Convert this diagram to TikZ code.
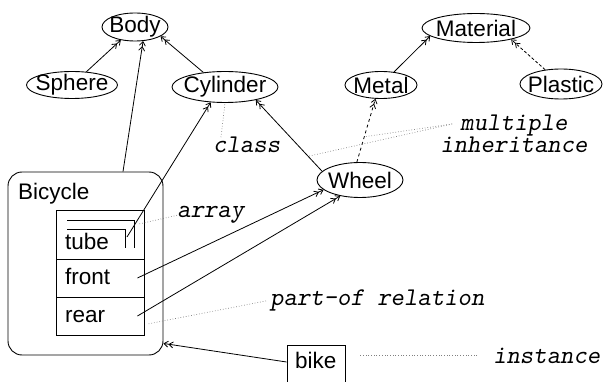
\documentclass[tikz,border=0pt]{standalone}
\usepackage{fontspec}
\setsansfont{Liberation Sans}
\usetikzlibrary{shapes.geometric,arrows.meta,calc}
\begin{document}
\begin{tikzpicture}[x=1pt,y=-1pt,
  every node/.style={inner sep=0pt},
  sf/.style={font=\fontsize{22.5}{26}\selectfont\sffamily},
  tt/.style={font=\fontsize{25.5}{21.5}\selectfont\ttfamily\slshape},
  cls/.style={ellipse,draw,line width=0.9pt,inner sep=0pt},
  slot/.style={draw,line width=0.9pt,minimum width=88pt},
  lnk/.style={line width=0.8pt,-{Straight Barb[length=4pt,width=6pt]Straight Barb[length=4pt,width=6pt]}},
  note/.style={dotted,gray,line width=0.7pt}]
\useasboundingbox (0,0) rectangle (603,382);
\clip (0,0) rectangle (603,382);

% class ellipses
\node[cls,minimum width=66pt,minimum height=28pt,label={[sf]center:Body}] (body) at (135,27) {};
\node[cls,minimum width=91pt,minimum height=27pt,label={[sf]center:Sphere}] (sphere) at (72,85) {};
\node[cls,minimum width=106pt,minimum height=31pt,label={[sf]center:Cylinder}] (cylinder) at (225,87) {};
\node[cls,minimum width=108pt,minimum height=29pt,label={[sf]center:Material}] (material) at (476,28) {};
\node[cls,minimum width=72pt,minimum height=27pt,label={[sf]center:Metal}] (metal) at (381,85) {};
\node[cls,minimum width=82pt,minimum height=30pt,label={[sf]center:Plastic}] (plastic) at (561,84) {};
\node[cls,minimum width=86pt,minimum height=35pt,label={[sf]center:Wheel}] (wheel) at (360,180) {};

% Bicycle class box
\node[draw,line width=0.9pt,rounded corners=14pt,minimum width=155pt,minimum height=183pt] (bicycle) at (85.5,263.5) {};
\node[sf,anchor=base west] (bicyclet) at (18,200) {Bicycle};
\node[slot,minimum height=49pt] (tubebox) at (100,234.5) {};
\node[slot,minimum height=38pt] (frontbox) at (100,278) {};
\node[slot,minimum height=38pt] (rearbox) at (100,316) {};
\node[sf,anchor=base west] (tubet) at (65,250) {tube};
\node[sf,anchor=base west] (frontt) at (65,285) {front};
\node[sf,anchor=base west] (reart) at (65,323) {rear};

% array marker
\draw[line width=0.9pt] (67,220) -- (134,220) -- (134,248);
\draw[line width=0.9pt] (67,229) -- (125,229) -- (125,248);
\coordinate (tubeptr) at (127,237);
\coordinate (tubemark) at (139,224);

% instance box
\node[draw,line width=0.9pt,minimum width=58pt,minimum height=50pt] (bike) at (316,370) {};
\node[sf,anchor=base west] (biket) at (295,369) {bike};

% labels
\node[tt,anchor=base west] (classlbl) at (213,153) {class};
\node[tt,anchor=base west] (arraylbl) at (177,218) {array};
\node[tt,anchor=north,align=center] (mi) at (514,115) {multiple\\inheritance};
\node[tt,anchor=base west] (partof) at (270,306) {part-of relation};
\node[tt,anchor=base west] (inst) at (493,363) {instance};

% inheritance links
\draw[lnk] (sphere) -- (body);
\draw[lnk] (cylinder.146) -- (body.340);
\draw[lnk] ([xshift=37.5pt]bicycle.north) -- (body.300);
\draw[lnk] (tubeptr) -- (cylinder.227);
\draw[lnk] (wheel.167) -- (cylinder.337);
\draw[lnk,dashed] (wheel.100) -- (metal.248);
\draw[lnk] (metal.45) -- (material.190);
\draw[lnk,densely dashed] (plastic.138) -- (material.342);

% part-of links
\draw[lnk] ([xshift=-7pt]frontbox.east) -- (wheel.195);
\draw[lnk] ([xshift=-7pt]rearbox.east) -- (wheel.219);

% instance link
\draw[lnk] ([yshift=8pt]bike.west) -- ([yshift=12pt]bicycle.south east);

% annotation pointers
\coordinate (mistart) at ($(mi.north west)+(12,9)$);
\draw[note] ([xshift=8pt]classlbl.north west) -- (cylinder.south);
\draw[note] (arraylbl.west) -- (tubemark);
\draw[note] (mistart) -- ($(wheel.167)!0.21!(cylinder.337)$);
\draw[note] (mistart) -- ($(wheel.100)!0.4!(metal.248)$);
\draw[note] ([xshift=-4pt]partof.west) -- ([xshift=3pt,yshift=-8pt]rearbox.east);
\draw[note] ([xshift=-16pt]inst.west) -- ([xshift=13pt]bike.east |- inst.west);
\end{tikzpicture}
\end{document}
